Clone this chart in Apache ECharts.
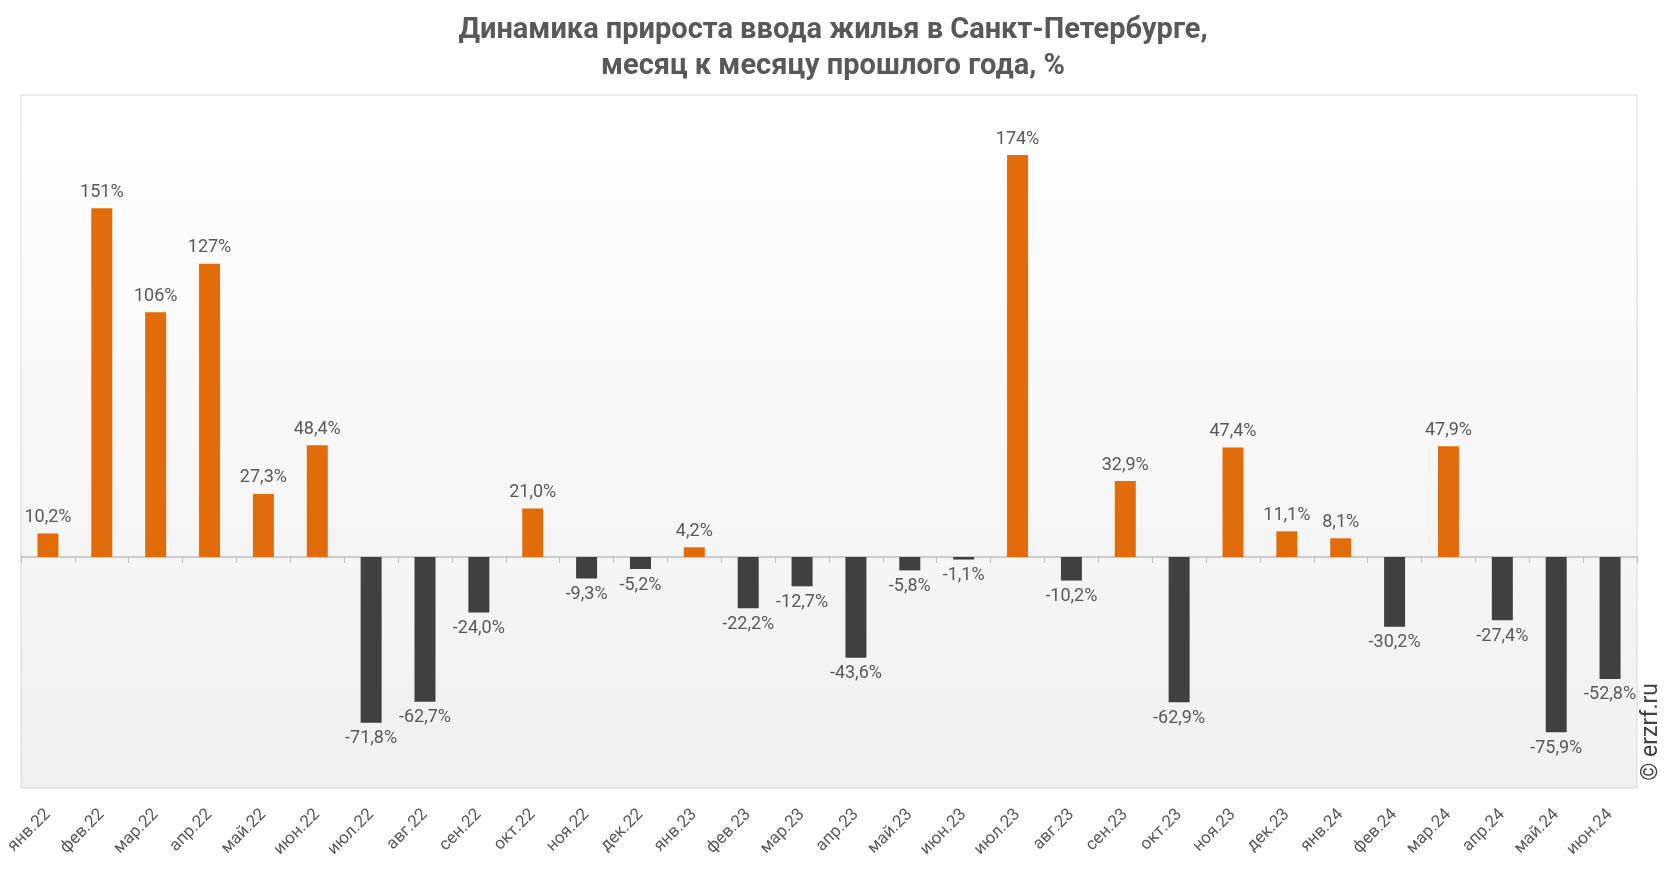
<!DOCTYPE html>
<html><head><meta charset="utf-8">
<script src="https://cdn.jsdelivr.net/npm/echarts@6/dist/echarts.min.js"></script>
<style>html,body{margin:0;padding:0;background:#fff}#c{width:1666px;height:872px}</style>
</head><body><div id="c"></div>
<script>
const categories = ['янв.22','фев.22','мар.22','апр.22','май.22','июн.22','июл.22','авг.22','сен.22','окт.22','ноя.22','дек.22','янв.23','фев.23','мар.23','апр.23','май.23','июн.23','июл.23','авг.23','сен.23','окт.23','ноя.23','дек.23','янв.24','фев.24','мар.24','апр.24','май.24','июн.24'];
const values = [10.2,151,106,127,27.3,48.4,-71.8,-62.7,-24.0,21.0,-9.3,-5.2,4.2,-22.2,-12.7,-43.6,-5.8,-1.1,174,-10.2,32.9,-62.9,47.4,11.1,8.1,-30.2,47.9,-27.4,-75.9,-52.8];
const titleLines = ['Динамика прироста ввода жилья в Санкт-Петербурге,', 'месяц к месяцу прошлого года, %'];
const posColor = '#E36C0A', negColor = '#404040';

function fmt(v){
  const a = Math.abs(v) >= 100 ? Math.round(v).toString() : v.toFixed(1).replace('.', ',');
  return a + '%';
}

const yMin = -100, yMax = 200;
const gridTop = 95, gridBottom = 84, H = 872;
const plotH = H - gridTop - gridBottom;
const zeroToBottom = plotH * (0 - yMin) / (yMax - yMin);

const chart = echarts.init(document.getElementById('c'), null, {renderer:'canvas'});
chart.setOption({
  animation:false,
  title:{text:titleLines.join('\n'), left:'center', top:8,
    textStyle:{fontFamily:'Roboto', fontWeight:'bold', fontSize:29, color:'#595959', lineHeight:36}},
  grid:{left:21, right:29, top:gridTop, bottom:gridBottom, show:true, borderColor:'#d9d9d9', borderWidth:1,
    backgroundColor:new echarts.graphic.LinearGradient(0,0,0,1,[{offset:0,color:'#ffffff'},{offset:1,color:'#f0f0f0'}])},
  xAxis:[
    {type:'category', data:categories, position:'bottom', axisLine:{show:false, onZero:false}, axisTick:{show:false},
     axisLabel:{rotate:45, interval:0, fontFamily:'Roboto', fontSize:17, color:'#595959', margin:24}},
    {type:'category', data:categories, position:'bottom', offset:-zeroToBottom,
     axisLine:{onZero:false, lineStyle:{color:'#bfbfbf', width:1.5}},
     axisTick:{show:true, length:6, lineStyle:{color:'#bfbfbf'}}, axisLabel:{show:false}}
  ],
  yAxis:{type:'value', min:yMin, max:yMax, axisLine:{show:false}, axisTick:{show:false}, axisLabel:{show:false}, splitLine:{show:false}},
  series:[
    {type:'bar', xAxisIndex:0, barWidth:21,
     data:values.map(v=>({value:v, itemStyle:{color:v>=0?posColor:negColor},
       label:{position:v>=0?'top':'bottom'}})),
     label:{show:true, formatter:p=>fmt(p.value), fontFamily:'Roboto', fontSize:18, color:'#595959', distance:7}},
    {type:'bar', xAxisIndex:1, data:[]}
  ],
  graphic:[{type:'text', left:1640, top:683, rotation:Math.PI/2, style:{text:'© erzrf.ru', font:'23px Roboto', fill:'#404040'}}]
});
</script></body></html>
